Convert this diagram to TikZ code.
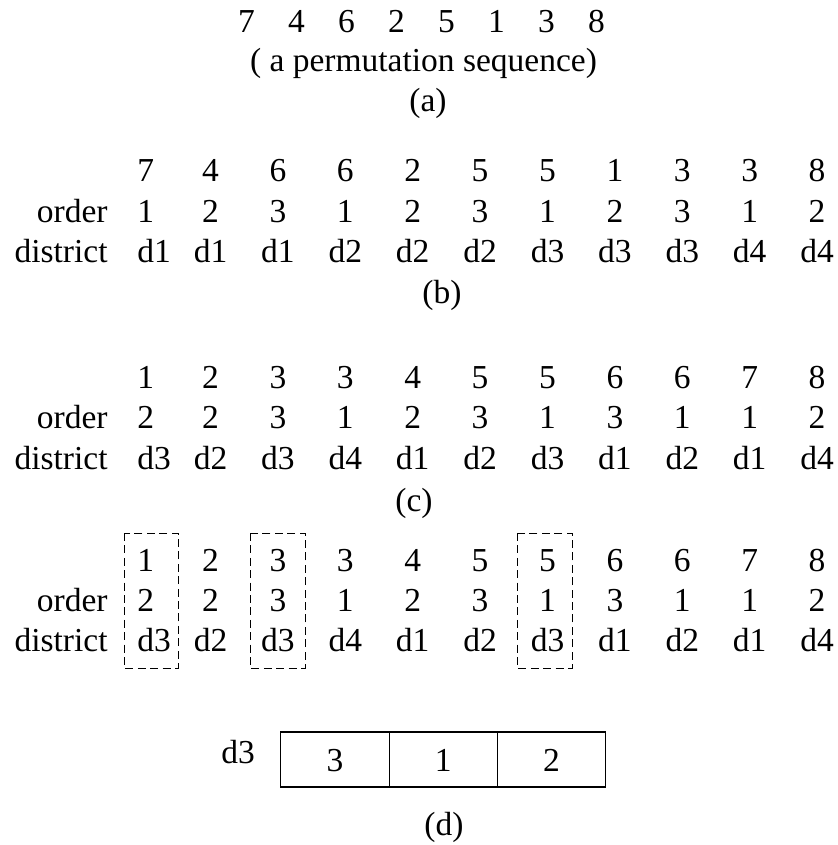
\documentclass[tikz,border=0pt]{standalone}
\usepackage{fontspec}
\setmainfont{Liberation Serif}

\tikzset{
  cell/.style={inner sep=0pt},
  rowlabel/.style={inner sep=0pt, anchor=base east},
  pick/.style={draw, dashed, dash pattern=on 4pt off 2.2pt, line width=0.5pt},
  slot/.style={draw, line width=0.6pt, minimum width=54.15pt, minimum height=27.5pt,
               inner sep=0pt, text height=12pt, text depth=0pt}
}

% one row of the table: name prefix, baseline, values
\newcommand\cellrow[3]{%
  \foreach \v [count=\i from 0] in {#3} {
    \ifnum\i=0
      \node[cell, anchor=base west] (#1-\i) at (137,#2) {\v};
    \else
      \node[cell, anchor=base] (#1-\i) at ({210.5+67.4*(\i-1)},#2) {\v};
    \fi
  }}

\begin{document}
\begin{tikzpicture}[x=0.5pt, y=-0.5pt, every node/.style={black}, font=\fontsize{16.75}{20}\selectfont]
\useasboundingbox (0,0) rectangle (837,845);

% (a)
\foreach \v [count=\i from 0] in {7,4,6,2,5,1,3,8}
  \node[cell, anchor=base] (a-\i) at ({246.5+50*\i},33) {\v};
\node[cell, anchor=base] (perm) at (423.5,72) {( a permutation sequence)};
\node[cell, anchor=base] (capa) at (428,112) {(a)};

% (b)
\cellrow{bv}{182}{7,4,6,6,2,5,5,1,3,3,8}
\cellrow{bo}{222}{1,2,3,1,2,3,1,2,3,1,2}
\cellrow{bd}{263}{d1,d1,d1,d2,d2,d2,d3,d3,d3,d4,d4}
\node[rowlabel] (bolab) at (108,222) {order};
\node[rowlabel] (bdlab) at (108,263) {district};
\node[cell, anchor=base] (capb) at (442,303) {(b)};

% (c)
\cellrow{cv}{388}{1,2,3,3,4,5,5,6,6,7,8}
\cellrow{co}{428.5}{2,2,3,1,2,3,1,3,1,1,2}
\cellrow{cd}{469}{d3,d2,d3,d4,d1,d2,d3,d1,d2,d1,d4}
\node[rowlabel] (colab) at (108,428.5) {order};
\node[rowlabel] (cdlab) at (108,469) {district};
\node[cell, anchor=base] (capc) at (414,511) {(c)};

% (d)
\cellrow{dv}{571}{1,2,3,3,4,5,5,6,6,7,8}
\cellrow{do}{611}{2,2,3,1,2,3,1,3,1,1,2}
\cellrow{dd}{651}{d3,d2,d3,d4,d1,d2,d3,d1,d2,d1,d4}
\node[rowlabel] (dolab) at (108,611) {order};
\node[rowlabel] (ddlab) at (108,651) {district};

\draw[pick] (124,533) rectangle (178,668);
\draw[pick] (250,533) rectangle (305,668);
\draw[pick] (517,533) rectangle (572,668);

\node[cell, anchor=base] (dlab) at (238,763) {d3};
\node[slot] (s1) at (335,759.5) {3};
\node[slot] (s2) at (443.3,759.5) {1};
\node[slot] (s3) at (551.6,759.5) {2};
\node[cell, anchor=base] (capd) at (444,835) {(d)};

\end{tikzpicture}
\end{document}
